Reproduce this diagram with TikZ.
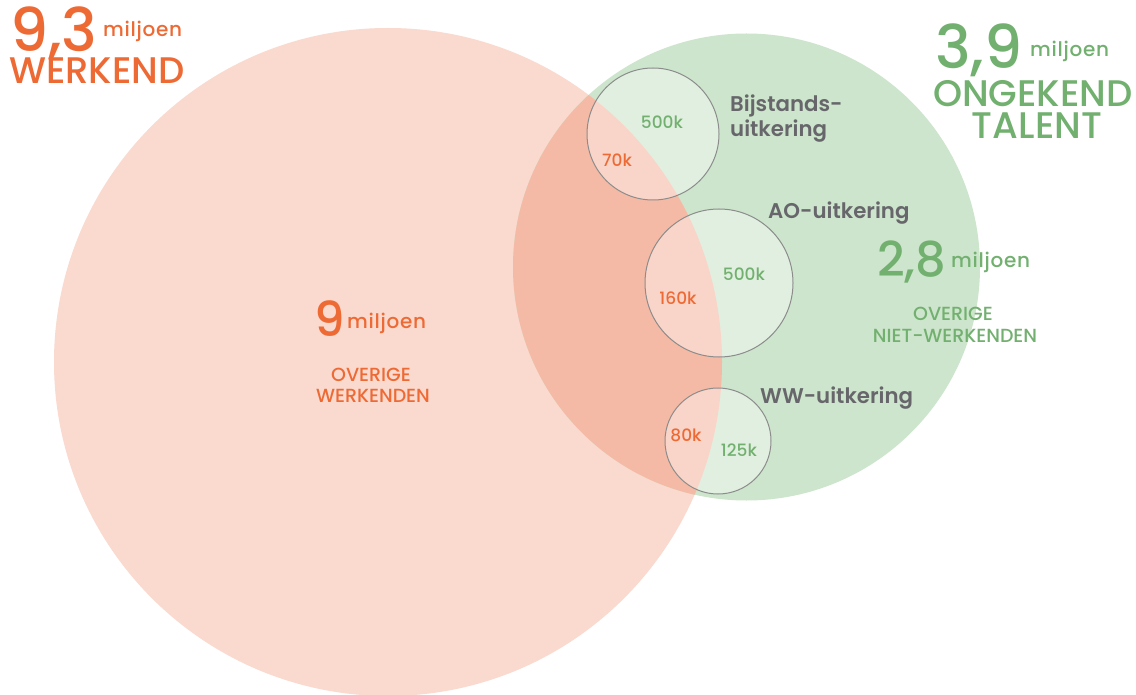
\documentclass[tikz,border=0pt]{standalone}
\usepackage{fontspec}
\setmainfont{Poppins}[UprightFont=* Medium, BoldFont=* SemiBold]

\definecolor{werkoranje}{HTML}{EE6A35}
\definecolor{talentgroen}{HTML}{72B06F}
\definecolor{labelgrijs}{HTML}{67676B}
\definecolor{werkvlak}{HTML}{FADACE}
\definecolor{talentvlak}{HTML}{CDE5CC}
\definecolor{overlapvlak}{HTML}{F5BAA5}
\definecolor{randgrijs}{HTML}{8C8C8C}

\tikzset{
  txt/.style={inner sep=0pt, anchor=base},
  grootgetal/.style={txt, anchor=base west, font=\fontsize{60}{60}\selectfont},
  middengetal/.style={txt, anchor=base west, font=\fontsize{48}{48}\selectfont},
  eenheid/.style={txt, anchor=base west, font=\fontsize{20}{20}\selectfont\addfontfeature{LetterSpace=3.5}},
  kop/.style={txt, font=\fontsize{37}{37}\selectfont},
  onderschrift/.style={txt, font=\fontsize{19}{19}\selectfont},
  uitkering/.style={txt, anchor=base west, text=labelgrijs, font=\fontsize{21.3}{21.3}\selectfont\bfseries},
  aantal/.style={txt, font=\fontsize{17}{17}\selectfont},
  deelcirkel/.style={fill=white, fill opacity=0.4, draw=randgrijs, line width=1pt},
}

\begin{document}
\begin{tikzpicture}[x=1pt, y=-1pt]
  \useasboundingbox (0,0) rectangle (1136,695);
  \fill[white] (0,0) rectangle (1136,695);

  % hoofdcirkels
  \coordinate (werkend) at (388,362);
  \coordinate (talent) at (746.5,267);
  \fill[werkvlak] (werkend) circle[radius=334pt];
  \fill[talentvlak] (talent) circle[radius=233.5pt];
  \begin{scope}
    \clip (talent) circle[radius=233.5pt];
    \fill[overlapvlak] (werkend) circle[radius=334pt];
  \end{scope}

  % uitkeringen
  \coordinate (bijstand) at (653,134);
  \coordinate (ao) at (719,283);
  \coordinate (ww) at (718,441);
  \draw[deelcirkel] (bijstand) circle[radius=66pt];
  \draw[deelcirkel] (ao) circle[radius=74pt];
  \draw[deelcirkel] (ww) circle[radius=53pt];

  % werkend
  \node[grootgetal, text=werkoranje] (werkgetal) at (10,52) {9,3};
  \node[eenheid, text=werkoranje] (werkeenheid) at (103,37) {miljoen};
  \node[kop, anchor=base west, text=werkoranje] (werkkop) at (9,84) {WERKEND};

  % ongekend talent
  \node[grootgetal, text=talentgroen] (talentgetal) at (935,69) {3,9};
  \node[eenheid, text=talentgroen] (talenteenheid) at (1030,57) {miljoen};
  \node[kop, text=talentgroen] (talentkop) at (1033,107) {ONGEKEND};
  \node[kop, text=talentgroen] (talentkop2) at (1037,139) {TALENT};

  % overige werkenden
  \node[middengetal, text=werkoranje] (overiggetal) at (314,337) {9};
  \node[eenheid, text=werkoranje] (overigeenheid) at (347,328) {miljoen};
  \node[onderschrift, text=werkoranje] (overig1) at (371,381) {OVERIGE};
  \node[onderschrift, text=werkoranje] (overig2) at (373,402) {WERKENDEN};

  % overige niet-werkenden
  \node[middengetal, text=talentgroen] (nietgetal) at (877,277) {2,8};
  \node[eenheid, text=talentgroen] (nieteenheid) at (951,268) {miljoen};
  \node[onderschrift, text=talentgroen] (niet1) at (953,320) {OVERIGE};
  \node[onderschrift, text=talentgroen] (niet2) at (955,342) {NIET-WERKENDEN};

  % labels
  \node[uitkering] (bijstandlabel) at (730,112) {Bijstands-};
  \node[uitkering] (bijstandlabel2) at (730,137) {uitkering};
  \node[uitkering] (aolabel) at (768,219) {AO-uitkering};
  \node[uitkering] (wwlabel) at (760,403) {WW-uitkering};

  % aantallen
  \node[aantal, text=talentgroen] (bijstandniet) at (662,129) {500k};
  \node[aantal, text=werkoranje] (bijstandwel) at (617,167) {70k};
  \node[aantal, text=talentgroen] (aoniet) at (744,281) {500k};
  \node[aantal, text=werkoranje] (aowel) at (678,305) {160k};
  \node[aantal, text=werkoranje] (wwwel) at (686,441) {80k};
  \node[aantal, text=talentgroen] (wwniet) at (739,456) {125k};
\end{tikzpicture}
\end{document}
